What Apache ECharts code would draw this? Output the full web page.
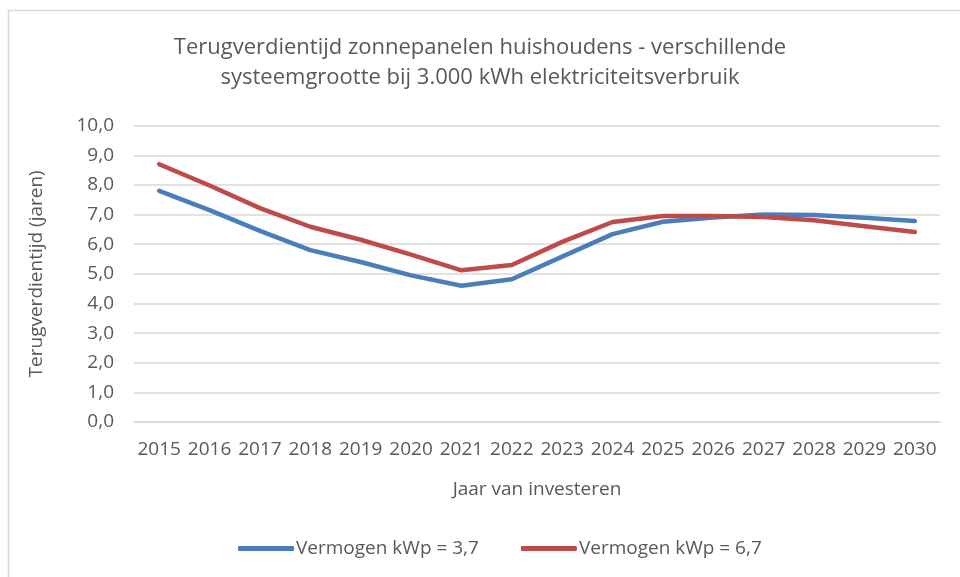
<!DOCTYPE html>
<html>
<head>
<meta charset="utf-8">
<script src="https://cdn.jsdelivr.net/npm/echarts@6/dist/echarts.min.js"></script>
<style>
html, body { margin: 0; padding: 0; background: #fff; }
#Map { width: 960px; height: 577px; }
</style>
</head>
<body>
<div id="Map"></div>
<script>
var jaren = ['2015','2016','2017','2018','2019','2020','2021','2022','2023','2024','2025','2026','2027','2028','2029','2030'];
var kwp37 = [7.8, 7.15, 6.45, 5.8, 5.4, 4.95, 4.6, 4.82, 5.58, 6.34, 6.76, 6.9, 7.0, 6.99, 6.89, 6.78];
var kwp67 = [8.7, 7.98, 7.22, 6.59, 6.15, 5.65, 5.12, 5.3, 6.08, 6.75, 6.95, 6.95, 6.92, 6.81, 6.61, 6.41];

var myChart = echarts.init(document.getElementById("Map"));
var tekst = '#595959';
var font = 'Open Sans';

var option = {
    backgroundColor: '#fff',
    title: {
        text: 'Terugverdientijd zonnepanelen huishoudens - verschillende\nsysteemgrootte bij 3.000 kWh elektriciteitsverbruik',
        left: 'center',
        top: 28,
        textStyle: { color: tekst, fontSize: 22, fontWeight: 'normal', fontFamily: font, lineHeight: 30 }
    },
    graphic: [{
        type: 'rect',
        shape: { x: 8.5, y: 10.5, width: 960, height: 570 },
        style: { fill: 'none', stroke: '#d9d9d9', lineWidth: 1.5 }
    }],
    legend: {
        data: ['Vermogen kWp = 3,7', 'Vermogen kWp = 6,7'],
        bottom: 14,
        left: 233,
        itemWidth: 56,
        itemHeight: 5,
        itemGap: 42,
        icon: 'roundRect',
        textStyle: { color: tekst, fontSize: 19, fontFamily: font, padding: [0, 0, 0, -3] }
    },
    grid: { left: 134, right: 20, top: 125.7, bottom: 155 },
    xAxis: {
        type: 'category',
        data: jaren,
        boundaryGap: true,
        name: 'Jaar van investeren',
        nameLocation: 'middle',
        nameGap: 58,
        nameTextStyle: { color: tekst, fontSize: 19, fontFamily: font },
        axisLine: { lineStyle: { color: '#d9d9d9', width: 1.5 } },
        axisTick: { show: false },
        axisLabel: { color: tekst, fontSize: 19, fontFamily: font, margin: 18, interval: 0 }
    },
    yAxis: {
        type: 'value',
        min: 0,
        max: 10,
        interval: 1,
        name: 'Terugverdientijd (jaren)',
        nameLocation: 'middle',
        nameGap: 88,
        nameTextStyle: { color: tekst, fontSize: 19, fontFamily: font },
        axisLabel: {
            color: tekst, fontSize: 19, fontFamily: font, margin: 20,
            formatter: function (v) { return v.toFixed(1).replace('.', ','); }
        },
        splitLine: { lineStyle: { color: '#d9d9d9', width: 1.5 } }
    },
    series: [
        {
            name: 'Vermogen kWp = 3,7',
            type: 'line',
            data: kwp37,
            symbol: 'none',
            color: '#4a7ebb',
            lineStyle: { width: 4.5, cap: 'round', join: 'round' }
        },
        {
            name: 'Vermogen kWp = 6,7',
            type: 'line',
            data: kwp67,
            symbol: 'none',
            color: '#be4b48',
            lineStyle: { width: 4.5, cap: 'round', join: 'round' }
        }
    ]
};
myChart.setOption(option);
</script>
</body>
</html>
